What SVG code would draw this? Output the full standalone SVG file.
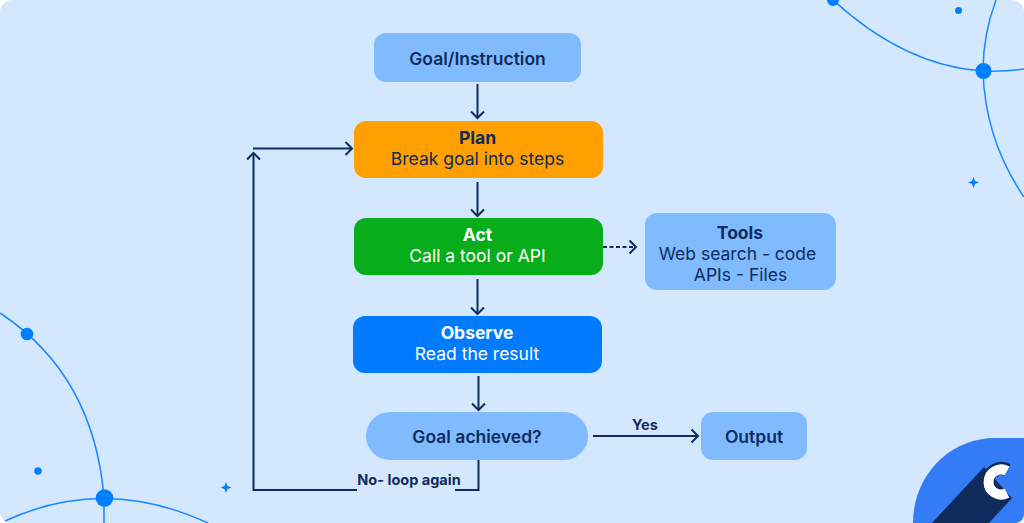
<svg xmlns="http://www.w3.org/2000/svg" width="1024" height="523" viewBox="0 0 1024 523">
<style>
text{font-family:Inter,"Liberation Sans",sans-serif;fill:#0f2b5c;text-anchor:middle}
.t{font-size:17.5px;font-weight:600}
.b{font-size:17.500px;font-weight:700}
.r{font-size:17.500px;font-weight:400}
.wt{fill:#fff;font-size:17.500px;font-weight:400}
.wb{fill:#fff;font-size:17.500px;font-weight:700}
.sm{font-size:14.500px;font-weight:700}
.c{fill:none;stroke:#0f2b5c;stroke-width:2}
.deco{fill:none;stroke:#1a87ff;stroke-width:1.5}
.dot{fill:#007fff}
</style>
<defs>
<marker id="a" markerUnits="userSpaceOnUse" markerWidth="14" markerHeight="16" refX="11" refY="8" orient="auto"><path d="M4.500,1.500 L11,8 L4.500,14.500" fill="none" stroke="#0f2b5c" stroke-width="2"/></marker>
</defs>
<rect width="1024" height="523" fill="#fff"/>
<rect width="1024" height="523" rx="12" fill="#d3e8ff"/>
<g id="decor">
<path class="deco" d="M0,313 Q94,375 104,498 L104,523"/>
<path class="deco" d="M5,521 Q104,475 208,523"/>
<path class="deco" d="M833,0 Q905,66 983,71 Q1005,72 1024,69"/>
<path class="deco" d="M996,0 Q983,35 983,71 Q985,140 1024,197"/>
<circle class="dot" cx="27" cy="334" r="6.300"/>
<circle class="dot" cx="104.500" cy="498" r="8.800"/>
<circle class="dot" cx="38" cy="471" r="3.800"/>
<circle class="dot" cx="833" cy="0" r="6"/>
<circle class="dot" cx="983.500" cy="71" r="8"/>
<circle class="dot" cx="958.500" cy="10.500" r="3.500"/>
<path class="dot" d="M226,482 L227.500,486 L231.500,487.500 L227.500,489 L226,493 L224.500,489 L220.500,487.500 L224.500,486Z"/>
<path class="dot" d="M973.500,177 L975,181 L979,182.500 L975,184 L973.500,188 L972,184 L968,182.500 L972,181Z"/>
</g>
<g id="logo">
<path d="M913,523 C913,475 950,438 995,438 L1024,438 L1024,513 Q1024,523 1014,523Z" fill="#347cf5"/>
<path d="M984,467 L932,523 L989,523 L1012,498 Z" fill="#0f2b5c"/>
<path d="M1007.500,470 A13.500,13.500 0 1 0 1007.500,494" fill="none" stroke="#0f2b5c" stroke-width="13"/>
<path d="M1007,471 A12.500,12.500 0 1 0 1007,493" fill="none" stroke="#fff" stroke-width="10"/>
</g>
<g id="connectors">
<path class="c" marker-end="url(#a)" d="M477.500,84 L477.500,118"/>
<path class="c" marker-end="url(#a)" d="M477.500,182 L477.500,216"/>
<path class="c" marker-end="url(#a)" d="M477.500,279 L477.500,314"/>
<path class="c" marker-end="url(#a)" d="M478.500,376 L478.500,410"/>
<path class="c" marker-end="url(#a)" d="M253,148.500 L352,148.500"/>
<path class="c" marker-end="url(#a)" d="M603,247 L636,247" stroke-dasharray="4 2.500"/>
<path class="c" marker-end="url(#a)" d="M593,436 L698,436"/>
<path class="c" d="M478.500,460 L478.500,490 L455,490"/>
<path class="c" marker-end="url(#a)" d="M357,490 L253.500,490 L253.500,153"/>
</g>
<g id="goal"><rect x="374" y="33" width="207" height="49" rx="12" fill="#80bbff"/><text class="t" x="477.500" y="64.500">Goal/Instruction</text></g>
<g id="plan"><rect x="354" y="121" width="249" height="57" rx="12" fill="#ff9f00"/><text class="b" x="477.500" y="144">Plan</text><text class="r" x="477.500" y="165">Break goal into steps</text></g>
<g id="act"><rect x="354" y="218" width="249" height="57" rx="12" fill="#07ad1a"/><text class="wb" x="477.500" y="241">Act</text><text class="wt" x="477.500" y="262">Call a tool or API</text></g>
<g id="tools"><rect x="645" y="213" width="191" height="77" rx="12" fill="#80bbff"/><text class="b" x="740" y="238.500">Tools</text><text class="r" x="737.500" y="259.500">Web search - code</text><text class="r" x="740.500" y="280.500">APIs - Files</text></g>
<g id="observe"><rect x="353" y="316" width="249" height="57" rx="12" fill="#007bff"/><text class="wb" x="477" y="339">Observe</text><text class="wt" x="477" y="360">Read the result</text></g>
<g id="decision"><rect x="366" y="412" width="222" height="48" rx="24" fill="#80bbff"/><text class="t" x="477" y="442.500">Goal achieved?</text></g>
<g id="output"><rect x="701" y="412" width="106" height="48" rx="12" fill="#80bbff"/><text class="t" x="754" y="442.500">Output</text></g>
<g id="labels"><text class="sm" x="645" y="430">Yes</text><text class="sm" x="409" y="484.500">No- loop again</text></g>
</svg>
